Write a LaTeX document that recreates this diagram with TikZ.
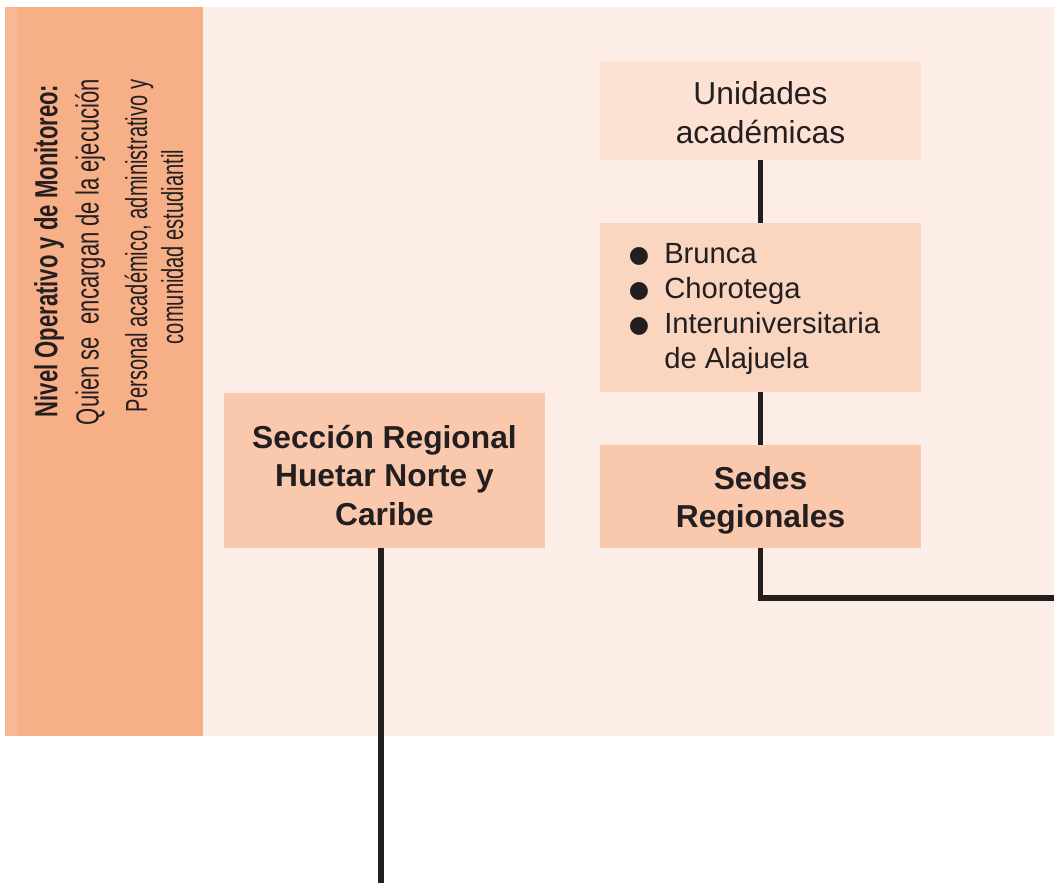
\documentclass[tikz,border=0pt]{standalone}
\usepackage{fontspec}
\setmainfont{Liberation Sans}
\newfontfamily\dejavu{DejaVu Sans}
\usepackage{graphicx}
\definecolor{bgc}{HTML}{FCEEE6}
\definecolor{bandc}{HTML}{F7AF87}
\definecolor{bandl}{HTML}{F9B893}
\definecolor{boxa}{HTML}{FDE2D4}
\definecolor{boxb}{HTML}{FAD5C0}
\definecolor{boxc}{HTML}{F9C8AD}
\definecolor{ink}{HTML}{231F20}
\newcommand{\bigfont}{\fontsize{23.8}{28.9}\selectfont}
\newcommand{\mybul}{\raisebox{0.6pt}{\makebox[25.5pt][l]{\hspace{-1pt}\dejavu\fontsize{17.5}{18}\selectfont ●}}}
\begin{document}
\begin{tikzpicture}[x=0.75pt,y=-0.75pt,
  orgbox/.style={rectangle, inner sep=0pt, minimum width=240.75pt},
  boxtext/.style={inner sep=0pt, text=ink, align=center, font=\bigfont},
  conn/.style={draw=ink, line width=3.9pt, line cap=butt, line join=miter},
  bandtext/.style={rotate=90, anchor=base, inner sep=0pt, text=ink}]
\useasboundingbox (0,0) rectangle (1054,883);
\fill[bgc] (5,7) rectangle (1054,736);
\fill[bandc] (5,7) rectangle (203,736);
\fill[bandl] (5,7) rectangle (17,736);

\node[bandtext] (t1) at (57.5,251) {\fontsize{24}{28}\selectfont\scalebox{0.69}[1]{\bfseries Nivel Operativo y de Monitoreo:}};
\node[bandtext] (t2) at (98.5,252) {\fontsize{24}{28}\selectfont\scalebox{0.69}[1]{Quien se\ \ encargan de la ejecución}};
\node[bandtext] (t3) at (147,246) {\fontsize{22.8}{27}\selectfont\scalebox{0.66}[1]{Personal académico, administrativo y}};
\node[bandtext] (t4) at (183,247) {\fontsize{22.8}{27}\selectfont\scalebox{0.66}[1]{comunidad estudiantil}};

\node[orgbox, fill=boxa, minimum height=74.25pt] (uni) at (760.5,110.5) {};
\node[boxtext] (unit) at (760.5,112.5) {Unidades\\académicas};
\node[orgbox, fill=boxb, minimum height=126.75pt] (reg) at (760.5,307.5) {};
\node[anchor=west, inner sep=0pt, text=ink] (reglist) at (630,308.5) {\fontsize{21.9}{26.25}\selectfont\renewcommand{\arraystretch}{1}%
  \begin{tabular}{@{}l@{}l@{}}
  \mybul & Brunca\\
  \mybul & Chorotega\\
  \mybul & Interuniversitaria\\
   & de Alajuela
  \end{tabular}};
\node[orgbox, fill=boxc, minimum height=77.25pt] (sedes) at (760.5,496.5) {};
\node[boxtext, font=\bigfont\bfseries] (sedest) at (760.5,500.5) {Sedes\\Regionales};
\node[orgbox, fill=boxc, minimum height=116.25pt] (sec) at (384.5,470.5) {};
\node[boxtext, font=\bigfont\bfseries] (sect) at (384.5,475.5) {Sección Regional\\Huetar Norte y\\Caribe};

\coordinate (rightend) at (1054,598);
\coordinate (bottomend) at (381,883);
\draw[conn] (uni.south) -- (reg.north);
\draw[conn] (reg.south) -- (sedes.north);
\draw[conn] (sedes.south) |- (rightend);
\draw[conn] (sec.south -| bottomend) -- (bottomend);
\end{tikzpicture}
\end{document}
